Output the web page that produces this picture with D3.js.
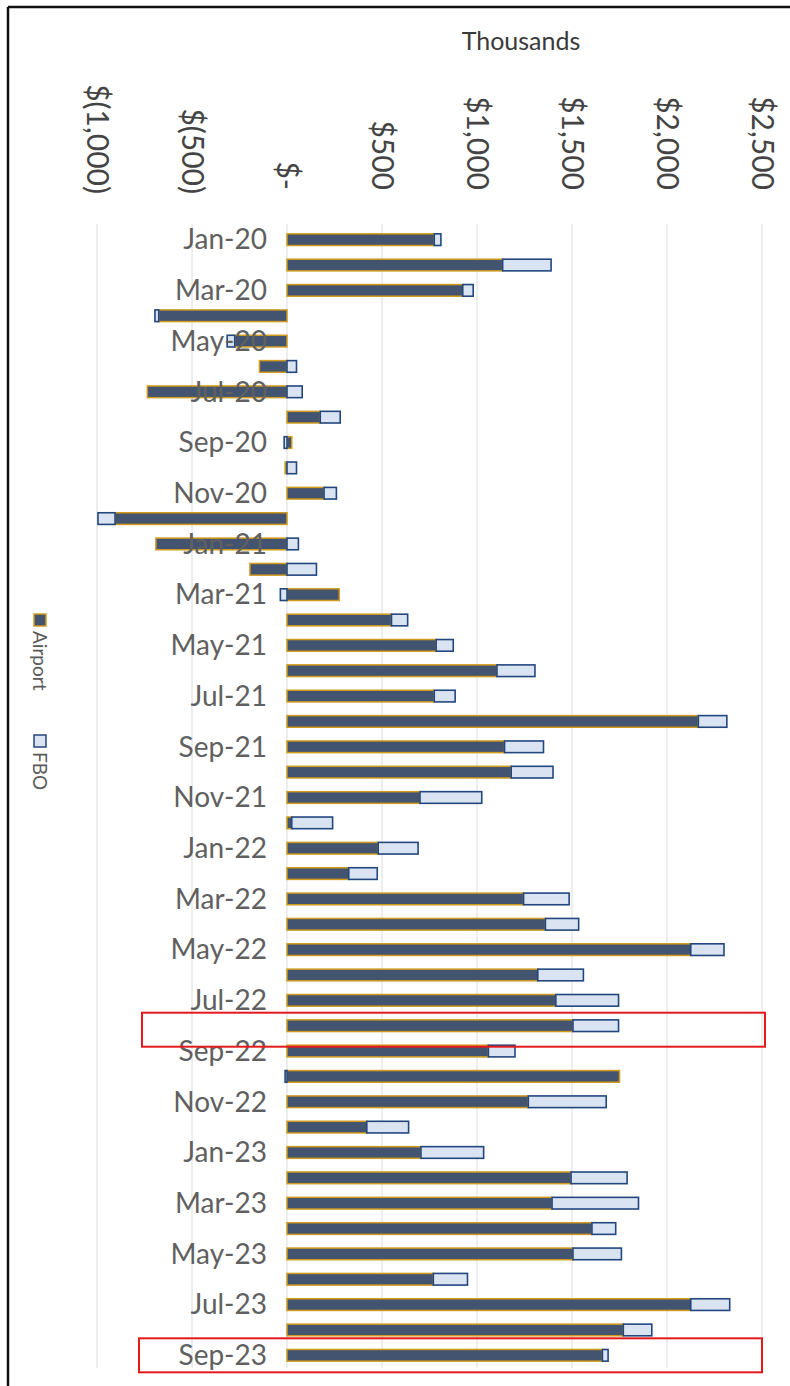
<!DOCTYPE html>
<meta charset="utf-8">
<style>

body {
  margin: 0;
  background: #fff;
}

text {
  font-family: Lato, "Open Sans", sans-serif;
}

.grid line {
  stroke: #dcdcdc;
  stroke-width: 1px;
}

</style>
<svg width="790" height="1386"></svg>

<script src="https://cdn.jsdelivr.net/npm/d3@7"></script>

<script>

var months = ["Jan-20","Feb-20","Mar-20","Apr-20","May-20","Jun-20","Jul-20","Aug-20","Sep-20","Oct-20","Nov-20","Dec-20",
  "Jan-21","Feb-21","Mar-21","Apr-21","May-21","Jun-21","Jul-21","Aug-21","Sep-21","Oct-21","Nov-21","Dec-21",
  "Jan-22","Feb-22","Mar-22","Apr-22","May-22","Jun-22","Jul-22","Aug-22","Sep-22","Oct-22","Nov-22","Dec-22",
  "Jan-23","Feb-23","Mar-23","Apr-23","May-23","Jun-23","Jul-23","Aug-23","Sep-23"];

// thousands of dollars
var airport = [775, 1135, 925, -675, -275, -145, -735, 175, 25, -10, 195, -905,
  -690, -195, 275, 550, 785, 1105, 775, 2165, 1145, 1180, 700, 25,
  480, 325, 1245, 1360, 2125, 1320, 1415, 1505, 1060, 1750, 1270, 420,
  705, 1495, 1395, 1605, 1505, 770, 2125, 1770, 1660];

var fbo = [35, 255, 55, -20, -40, 50, 80, 105, -15, 50, 65, -90,
  60, 155, -35, 85, 90, 200, 110, 150, 205, 220, 325, 215,
  210, 150, 240, 175, 175, 240, 330, 240, 140, -10, 410, 220,
  330, 295, 455, 125, 255, 180, 205, 150, 30];

var tickValues = [-1000, -500, 0, 500, 1000, 1500, 2000, 2500];
var tickLabels = ["$(1,000)", "$(500)", "$-", "$500", "$1,000", "$1,500", "$2,000", "$2,500"];

var highlighted = ["Aug-22", "Sep-23"];

var seriesKeys = ["Airport", "FBO"];
var fills = {Airport: "#435471", FBO: "#d9e3f1"};
var strokes = {Airport: "#d09a1c", FBO: "#22477f"};

var svg = d3.select("svg");

var table = months.map(function(m, i) {
  return {month: m, Airport: airport[i], FBO: fbo[i]};
});

var x = d3.scaleLinear().domain([-1000, 2500]).range([97, 762]);
var y = d3.scaleBand().domain(months).range([227, 1368]).paddingInner(0.54).paddingOuter(0.27);
var band = d3.scaleBand().domain(months).range([227, 1368]);

// frame of the scanned page
svg.append("line").attr("x1", 8).attr("x2", 790).attr("y1", 7).attr("y2", 7)
  .attr("stroke", "#111").attr("stroke-width", 2.5);
svg.append("line").attr("x1", 8).attr("x2", 8).attr("y1", 7).attr("y2", 1386)
  .attr("stroke", "#111").attr("stroke-width", 2.5);

// gridlines
svg.append("g")
    .attr("class", "grid")
  .selectAll("line")
  .data(tickValues)
  .enter().append("line")
    .attr("x1", function(d) { return x(d); })
    .attr("x2", function(d) { return x(d); })
    .attr("y1", 224)
    .attr("y2", 1368);

// value labels, turned on their side
svg.append("g")
  .selectAll("text")
  .data(tickValues)
  .enter().append("text")
    .attr("transform", function(d) { return "translate(" + x(d) + "," + (d < 0 ? 194 : 190) + ") rotate(90)"; })
    .attr("text-anchor", "end")
    .attr("dy", "0.35em")
    .attr("font-size", "30px")
    .attr("fill", "#444")
    .text(function(d, i) { return tickLabels[i]; });

svg.append("text")
    .attr("x", 521)
    .attr("y", 50)
    .attr("text-anchor", "middle")
    .attr("font-size", "25px")
    .attr("fill", "#3a3a3a")
    .text("Thousands");

var stack = d3.stack().keys(seriesKeys).offset(d3.stackOffsetDiverging);
var layers = stack(table);

svg.append("g")
  .selectAll("g")
  .data(layers)
  .enter().append("g")
    .attr("fill", function(d) { return fills[d.key]; })
    .attr("stroke", function(d) { return strokes[d.key]; })
    .attr("stroke-width", function(d) { return d.key == "FBO" ? 1.6 : 1.5; })
  .selectAll("rect")
  .data(function(d) { return d; })
  .enter().append("rect")
    .attr("x", function(d) { return x(Math.min(d[0], d[1])); })
    .attr("y", function(d) { return y(d.data.month); })
    .attr("width", function(d) { return Math.abs(x(d[1]) - x(d[0])); })
    .attr("height", y.bandwidth());

// month labels, every second month
svg.append("g")
  .selectAll("text")
  .data(months.filter(function(d, i) { return i % 2 == 0; }))
  .enter().append("text")
    .attr("x", 267)
    .attr("y", function(d) { return band(d) + band.bandwidth() / 2; })
    .attr("dy", "0.35em")
    .attr("text-anchor", "end")
    .attr("font-size", "28px")
    .attr("fill", "#606060")
    .text(function(d) { return d; });

// red boxes drawn on the printout
svg.append("g")
  .selectAll("rect")
  .data(highlighted)
  .enter().append("rect")
    .attr("x", function(d, i) { return i == 0 ? 142 : 139; })
    .attr("y", function(d, i) { return band(d) + band.bandwidth() / 2 - 17 + (i == 0 ? 4 : 0); })
    .attr("width", 623)
    .attr("height", 34)
    .attr("fill", "none")
    .attr("stroke", "#e3191c")
    .attr("stroke-width", 2);

// legend, rotated like the value labels
var legend = svg.append("g")
    .attr("transform", "translate(40,614) rotate(90)");

var item = legend.selectAll("g")
  .data(seriesKeys)
  .enter().append("g")
    .attr("transform", function(d, i) { return "translate(" + (i * 121) + ",0)"; });

item.append("rect")
    .attr("x", 0)
    .attr("y", -6)
    .attr("width", 12)
    .attr("height", 12)
    .attr("fill", function(d) { return fills[d]; })
    .attr("stroke", function(d) { return strokes[d]; })
    .attr("stroke-width", 1.5);

item.append("text")
    .attr("x", 17)
    .attr("dy", "0.35em")
    .attr("font-size", "19px")
    .attr("fill", "#5a5a5a")
    .text(function(d) { return d; });

</script>
